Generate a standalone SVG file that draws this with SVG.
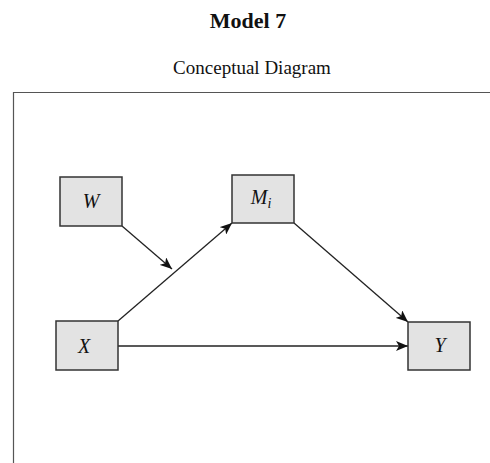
<svg xmlns="http://www.w3.org/2000/svg" width="490" height="463" viewBox="0 0 490 463">
<style>
.title{font-family:"Liberation Serif",serif;font-weight:bold;font-size:22px;fill:#111}
.sub{font-family:"Liberation Serif",serif;font-size:19px;fill:#111}
.box{fill:#e3e3e3;stroke:#333;stroke-width:1.5}
.lbl{font-family:"Liberation Serif",serif;font-style:italic;font-size:20px;fill:#111}
.edge{stroke:#222;stroke-width:1.3;fill:none;marker-end:url(#ah)}
</style>
<defs>
<marker id="ah" viewBox="0 0 12 10" refX="12" refY="5" markerWidth="12" markerHeight="10" markerUnits="userSpaceOnUse" orient="auto">
<path d="M0,0 L12,5 L0,10 L3,5 Z" fill="#111"/>
</marker>
</defs>
<rect width="490" height="463" fill="#fff"/>
<text class="title" x="248" y="28" text-anchor="middle">Model 7</text>
<text class="sub" x="252" y="74" text-anchor="middle">Conceptual Diagram</text>
<path d="M13.5,463 V92.5 H490" fill="none" stroke="#555" stroke-width="1.2"/>
<g id="connectors">
<line class="edge" x1="118" y1="346" x2="408" y2="346"/>
<line class="edge" x1="118" y1="321" x2="232" y2="223"/>
<line class="edge" x1="122" y1="226" x2="172" y2="269"/>
<line class="edge" x1="294" y1="223" x2="408" y2="322"/>
</g>
<g id="W"><rect class="box" x="60" y="177" width="62" height="49"/><text class="lbl" x="91" y="208" text-anchor="middle">W</text></g>
<g id="M"><rect class="box" x="232" y="175" width="62" height="48"/><text class="lbl" x="261" y="204" text-anchor="middle">M<tspan font-size="14" dy="4">i</tspan></text></g>
<g id="X"><rect class="box" x="56" y="321" width="62" height="49"/><text class="lbl" x="84" y="353" text-anchor="middle">X</text></g>
<g id="Y"><rect class="box" x="408" y="322" width="62" height="48"/><text class="lbl" x="440" y="352" text-anchor="middle">Y</text></g>
</svg>
